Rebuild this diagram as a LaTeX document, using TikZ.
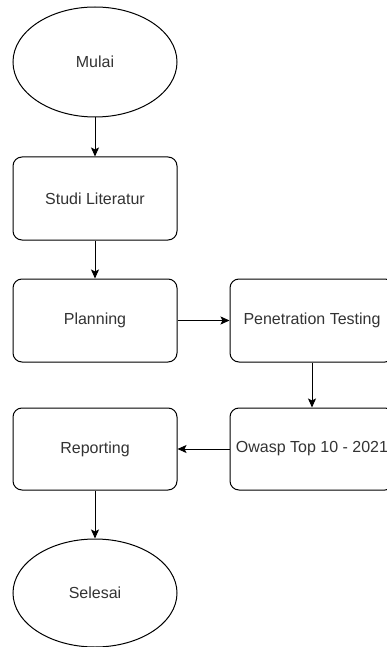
\documentclass[tikz,border=0pt]{standalone}
\usepackage{fontspec}
\setmainfont{Liberation Sans}
\usetikzlibrary{shapes.geometric}
\usetikzlibrary{arrows.meta}

\begin{document}
\begin{tikzpicture}[%
        x = 1pt,
        y = -1pt,
        draw = black,
        line width = 1pt,
        font = \fontsize{16}{19}\selectfont,
        text = black!80,
        terminal/.style = {ellipse, draw, fill = white, inner sep = 0pt,
                           minimum width = 164pt, minimum height = 110pt},
        stepbox/.style  = {rectangle, draw, fill = white, rounded corners = 9pt,
                           inner sep = 0pt,
                           minimum width = 164pt, minimum height = 83pt},
        flow/.style     = {-{Stealth[length = 9pt, width = 8pt, inset = 2pt]}},
        ]

\useasboundingbox[] (0,0) rectangle (387,647);
\clip (0,0) rectangle (387,647);
% \draw[step = 50] (0,0) grid (387,647);


\node (mulai) [terminal] at (95,62) {Mulai};

\node (studi) [stepbox] at (95,198.5) {Studi Literatur};

\node (planning) [stepbox] at (95,320.5) {Planning};
\node (pentest) [stepbox] at (312,320.5) {Penetration Testing};

\node (owasp) [stepbox, minimum height = 82pt] at (312,449) {Owasp Top 10 - 2021};
\node (reporting) [stepbox, minimum height = 82pt] at (95,449) {Reporting};

\node (selesai) [terminal, minimum height = 108pt] at (95,593) {Selesai};


\draw[flow] (mulai) -- (studi);
\draw[flow] (studi) -- (planning);
\draw[flow] (planning) -- (pentest);
\draw[flow] (pentest) -- (owasp);
\draw[flow] (owasp) -- (reporting);
\draw[flow] (reporting) -- (selesai);


\end{tikzpicture}
\end{document}
